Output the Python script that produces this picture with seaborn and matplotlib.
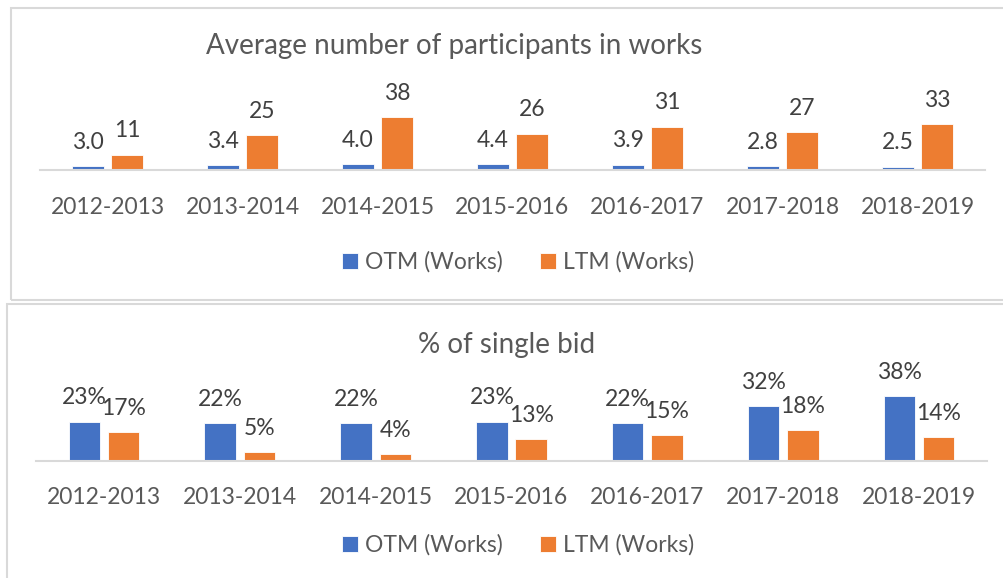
import matplotlib
matplotlib.use("Agg")
import matplotlib.pyplot as plt
import pandas as pd
import seaborn as sns
from matplotlib.patches import Rectangle

periods = ["2012-2013", "2013-2014", "2014-2015", "2015-2016",
           "2016-2017", "2017-2018", "2018-2019"]
series_names = ["OTM (Works)", "LTM (Works)"]

avg_otm = [3.0, 3.4, 4.0, 4.4, 3.9, 2.8, 2.5]
avg_ltm = [11, 25, 38, 26, 31, 27, 33]

single_otm = [23, 22, 22, 23, 22, 32, 38]
single_ltm = [17, 5, 4, 13, 15, 18, 14]

BLUE = "#4472C4"
ORANGE = "#ED7D31"
GRID = "#D9D9D9"
TXT = "#595959"
LBL = "#404040"
FS = 16.5


def long_frame(otm, ltm):
    return pd.DataFrame({
        "period": periods * 2,
        "series": [series_names[0]] * len(periods) + [series_names[1]] * len(periods),
        "value": list(otm) + list(ltm),
    })


def draw_panel(fig, rect, df, ymax, fmts, title, title_xy, legend_y, tick_pad):
    ax = fig.add_axes(rect)
    sns.barplot(data=df, x="period", y="value", hue="series",
                palette=[BLUE, ORANGE], saturation=1, width=0.578, gap=0.2,
                ax=ax, legend=True, edgecolor="white", linewidth=0.6)
    ax.set_ylim(0, ymax)
    ax.set_xlim(-0.5, len(periods) - 0.5)
    for cont, fmt in zip(ax.containers, fmts):
        ax.bar_label(cont, labels=[fmt(v) for v in cont.datavalues],
                     padding=9.5, fontsize=FS, color=LBL)
    for s in ["top", "right", "left"]:
        ax.spines[s].set_visible(False)
    ax.spines["bottom"].set_color(GRID)
    ax.spines["bottom"].set_linewidth(1.5)
    ax.set_yticks([])
    ax.set_xlabel("")
    ax.set_ylabel("")
    ax.tick_params(axis="x", length=0, pad=tick_pad, labelsize=FS, labelcolor=TXT)
    handles, labels = ax.get_legend_handles_labels()
    ax.legend(handles, labels, loc="center", ncol=2, frameon=False,
              bbox_to_anchor=(0.516, legend_y), bbox_transform=fig.transFigure,
              fontsize=FS, labelcolor=TXT, handlelength=0.7, handleheight=0.7,
              handletextpad=0.3, columnspacing=1.6)
    fig.text(title_xy[0], title_xy[1], title, ha="center", va="center",
             fontsize=20, color=TXT)
    return ax


sns.set_theme(style="white")
plt.rcParams["font.family"] = ["Lato", "DejaVu Sans"]

W, H = 1004, 578
fig = plt.figure(figsize=(W / 100, H / 100), dpi=100)

# panel frames
fig.patches.append(Rectangle((11 / W, 1 - 300 / H), 1.2, 292 / H,
                             transform=fig.transFigure, fill=False,
                             edgecolor=GRID, linewidth=1.5))
fig.patches.append(Rectangle((7 / W, -0.2), 1.2, 0.2 + 1 - 304 / H,
                             transform=fig.transFigure, fill=False,
                             edgecolor=GRID, linewidth=1.5))

# top: average number of participants
top_h = 80 * 1.4
draw_panel(fig, [40 / W, 1 - 170 / H, 945 / W, top_h / H],
           long_frame(avg_otm, avg_ltm), 80,
           [lambda v: f"{v:.1f}", lambda v: f"{v:.0f}"],
           "Average number of participants in works", (0.4525, 1 - 46 / H),
           1 - 262 / H, 19.5)

# bottom: % of single bid
bot_h = 50 * 1.71
draw_panel(fig, [36 / W, 1 - 461 / H, 951 / W, bot_h / H],
           long_frame(single_otm, single_ltm), 50,
           [lambda v: f"{v:.0f}%", lambda v: f"{v:.0f}%"],
           "% of single bid", (0.505, 1 - 345 / H), 1 - 545 / H, 18.5)

fig.savefig("out.png", dpi=100)
